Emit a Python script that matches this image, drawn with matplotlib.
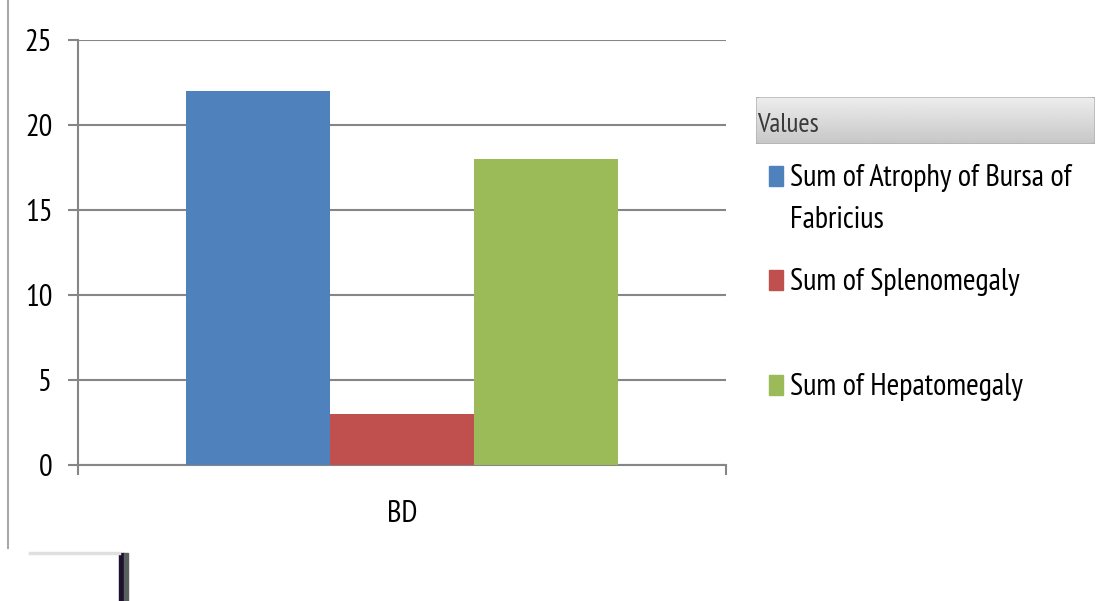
import numpy as np
import matplotlib.pyplot as plt
from matplotlib.patches import Rectangle, FancyBboxPatch
from matplotlib.lines import Line2D

plt.rcParams['font.family'] = ['PT Sans Narrow', 'Roboto Condensed', 'DejaVu Sans']

categories = ['BD']
series_names = ['Sum of Atrophy of Bursa of\nFabricius', 'Sum of Splenomegaly', 'Sum of Hepatomegaly']
series_values = [[22], [3], [18]]
series_colors = ['#4f81bd', '#c0504d', '#9bbb59']
y_ticks = [0, 5, 10, 15, 20, 25]

W, H = 1105, 601
fig = plt.figure(figsize=(W / 100, H / 100), dpi=100)
fig.patch.set_facecolor('white')

ax = fig.add_axes([78 / W, 1 - 465 / H, (726 - 78) / W, (465 - 40) / H])
grid_col = '#868686'

bar_w = 0.2222
x = np.arange(len(categories))
for i, (vals, col) in enumerate(zip(series_values, series_colors)):
    ax.bar(x + (i - 1) * bar_w, vals, width=bar_w, color=col, zorder=3)

ax.set_xlim(-0.5, 0.5)
ax.set_ylim(0, 25)
ax.set_yticks(y_ticks)
ax.yaxis.grid(True, color=grid_col, linewidth=1.5, zorder=0)
ax.set_axisbelow(True)
ax.tick_params(axis='y', direction='out', length=7.5, width=1.5, color=grid_col,
               labelsize=22, pad=11)
ax.set_xticks([-0.5, 0.5])
ax.set_xticklabels([])
ax.tick_params(axis='x', which='major', direction='out', length=7.5, width=1.5, color=grid_col)
ax.set_xticks(x, minor=True)
ax.set_xticklabels(categories, minor=True)
ax.tick_params(axis='x', which='minor', length=0, labelsize=22, pad=25)
for s in ['top', 'right']:
    ax.spines[s].set_visible(False)
for s in ['left', 'bottom']:
    ax.spines[s].set_color(grid_col)
    ax.spines[s].set_linewidth(1.5)

# legend header with grey gradient
hax = fig.add_axes([756 / W, 1 - 144 / H, (1095 - 756) / W, 47 / H])
grad = np.linspace(0.93, 0.78, 64).reshape(-1, 1)
hax.imshow(grad, aspect='auto', cmap='gray', vmin=0, vmax=1, extent=[0, 1, 0, 1])
hax.set_xlim(0, 1)
hax.set_ylim(0, 1)
hax.axis('off')
hax.add_patch(FancyBboxPatch((0, 0), 1, 1, boxstyle='round,pad=0,rounding_size=0.02',
                             fill=False, edgecolor='#b0b0b0', linewidth=1,
                             transform=hax.transAxes))
fig.text(757 / W, 1 - 132 / H, 'Values', fontsize=19.5, color='#3a3a3a',
         va='baseline', ha='left')

# legend entries: baseline of first line per entry, 42 px between wrapped lines
entry_base = [186, 290, 395]
for name, col, yb in zip(series_names, series_colors, entry_base):
    fig.patches.append(Rectangle((769 / W, 1 - yb / H), 14 / W, 20 / H,
                                 color=col, transform=fig.transFigure))
    for k, line in enumerate(name.split('\n')):
        fig.text(790 / W, 1 - (yb + 42 * k) / H, line, fontsize=22,
                 va='baseline', ha='left')

# frame edge on the left and scraps at the bottom
fig.lines.append(Line2D([8 / W, 8 / W], [1, 1 - 548 / H], color='#a8a8a8', linewidth=1.5,
                        transform=fig.transFigure))
fig.lines.append(Line2D([30 / W, 119 / W], [1 - 553 / H, 1 - 553 / H], color='#e0e0e0',
                        linewidth=2.5, transform=fig.transFigure))
fig.patches.append(Rectangle((119 / W, 0), 5 / W, 48 / H, color='#1c1230', transform=fig.transFigure))
fig.patches.append(Rectangle((124 / W, 0), 4 / W, 48 / H, color='#5a6060', transform=fig.transFigure))

fig.savefig('out.png', dpi=100)
